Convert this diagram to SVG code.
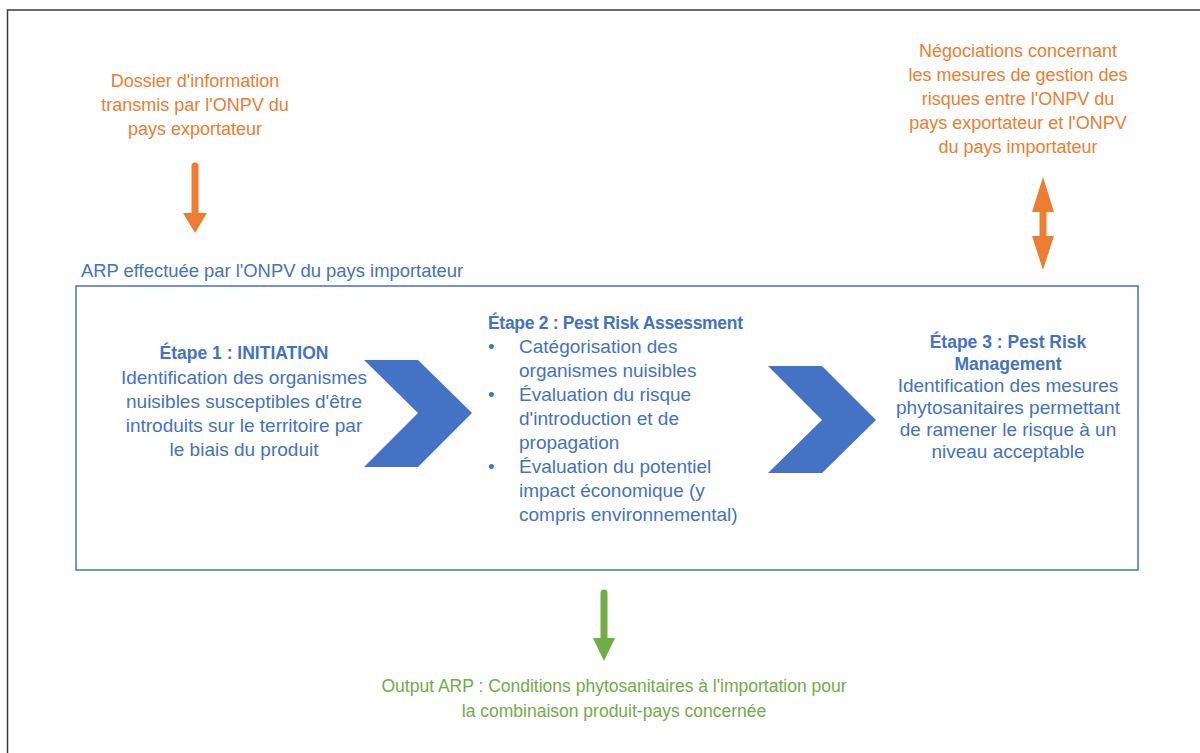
<svg xmlns="http://www.w3.org/2000/svg" width="1200" height="753" viewBox="0 0 1200 753">
<style>
text{font-family:"Liberation Sans",Arial,sans-serif;font-size:19px}
.o{fill:#ED7D31;font-size:18px}
.b{fill:#4472C4}
.lbl{font-size:18.4px}
.g{fill:#70AD47;font-size:17.5px}
.m{text-anchor:middle}
.bold{font-weight:bold;font-size:17.5px}
.chev{fill:#4472C4}
</style>
<rect x="0" y="0" width="1200" height="753" fill="#fff"/>
<g id="frame">
<path d="M7.5 753 V10 H1200" fill="none" stroke="#3a3a3a" stroke-width="1.5"/>
</g>
<g id="input">
<text class="o m" x="195"><tspan x="195" y="87">Dossier d'information</tspan><tspan x="195" y="111">transmis par l'ONPV du</tspan><tspan x="195" y="135">pays exportateur</tspan></text>
</g>
<g id="negotiation">
<text class="o m"><tspan x="1018" y="57">Négociations concernant</tspan><tspan x="1018" y="81">les mesures de gestion des</tspan><tspan x="1018" y="105">risques entre l'ONPV du</tspan><tspan x="1018" y="129">pays exportateur et l'ONPV</tspan><tspan x="1018" y="153">du pays importateur</tspan></text>
</g>
<g id="arp">
<text class="b lbl" x="81" y="277">ARP effectuée par l'ONPV du pays importateur</text>
<rect x="76" y="286" width="1062" height="284" fill="none" stroke="#4472C4" stroke-width="1.5"/>
</g>
<g id="etape1">
<text class="b m"><tspan class="bold" x="244" y="359">Étape 1 : INITIATION</tspan><tspan x="244" y="384">Identification des organismes</tspan><tspan x="244" y="408">nuisibles susceptibles d'être</tspan><tspan x="244" y="432">introduits sur le territoire par</tspan><tspan x="244" y="456">le biais du produit</tspan></text>
</g>
<g id="etape2">
<text class="b bold" x="488" y="329" textLength="255">Étape 2 : Pest Risk Assessment</text>
<text class="b"><tspan x="488" y="353">•</tspan><tspan x="519" y="353">Catégorisation des</tspan><tspan x="519" y="377">organismes nuisibles</tspan><tspan x="488" y="401">•</tspan><tspan x="519" y="401">Évaluation du risque</tspan><tspan x="519" y="425">d'introduction et de</tspan><tspan x="519" y="449">propagation</tspan><tspan x="488" y="473">•</tspan><tspan x="519" y="473">Évaluation du potentiel</tspan><tspan x="519" y="497">impact économique (y</tspan><tspan x="519" y="521">compris environnemental)</tspan></text>
</g>
<g id="etape3">
<text class="b m"><tspan class="bold" x="1008" y="348">Étape 3 : Pest Risk</tspan><tspan class="bold" x="1008" y="370">Management</tspan><tspan x="1008" y="392">Identification des mesures</tspan><tspan x="1008" y="414">phytosanitaires permettant</tspan><tspan x="1008" y="436">de ramener le risque à un</tspan><tspan x="1008" y="458">niveau acceptable</tspan></text>
</g>
<g id="output">
<text class="g m"><tspan x="614" y="692">Output ARP : Conditions phytosanitaires à l'importation pour</tspan><tspan x="614" y="717">la combinaison produit-pays concernée</tspan></text>
</g>
<g id="connectors">
<polygon class="chev" points="364,360 418,360 472,413 418,467 364,467 418,413"/>
<polygon class="chev" points="768,366 822,366 876,420 822,473 768,473 822,420"/>
<g fill="#ED7D31">
<path d="M191.5 166 a3.5 3.5 0 0 1 7 0 V213 h8.5 L195 233 L183 213 h8.5 Z"/>
<path d="M1043 177 L1054 212 H1046.5 V236 H1054 L1043 270 L1032 236 H1039.5 V212 H1032 Z"/>
</g>
<path fill="#70AD47" d="M600.5 593 a3.5 3.5 0 0 1 7 0 V638 h7.5 L604 661 L593 638 h7.5 Z"/>
</g>
</svg>
